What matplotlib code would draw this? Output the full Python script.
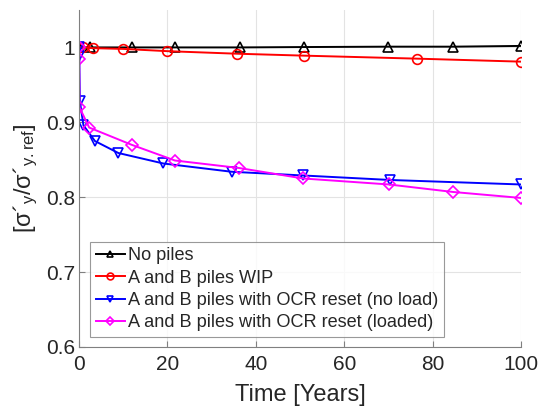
import matplotlib
matplotlib.use("Agg")
import matplotlib.pyplot as plt

plt.rcParams['font.family'] = ['Liberation Sans', 'DejaVu Sans']
plt.rcParams['mathtext.fontset'] = 'custom'
plt.rcParams['mathtext.rm'] = 'Liberation Sans'
plt.rcParams['mathtext.it'] = 'Liberation Sans'
plt.rcParams['mathtext.bf'] = 'Liberation Sans:bold'

# Data
t_black = [0, 2.5, 12, 21.7, 36.4, 51, 70, 84.6, 100]
v_black = [1.0, 1.0, 1.0, 1.0, 1.0, 1.0005, 1.001, 1.001, 1.002]

t_red = [0, 1.0, 3.2, 10, 20, 35.7, 51, 76.5, 100]
v_red = [1.0, 1.0, 0.999, 0.998, 0.995, 0.9916, 0.989, 0.985, 0.981]

t_blue = [0, 0.05, 0.2, 1.0, 3.6, 8.9, 19.1, 34.5, 50.7, 70.4, 100]
v_blue = [1.0, 0.988, 0.928, 0.896, 0.875, 0.859, 0.845, 0.834, 0.829, 0.823, 0.817]

t_mag = [0, 0.05, 0.1, 2.3, 11.9, 21.7, 36.2, 50.7, 70.1, 84.6, 100]
v_mag = [1.0, 0.984, 0.920, 0.893, 0.870, 0.849, 0.839, 0.825, 0.817, 0.807, 0.799]

labels = ['No piles', 'A and B piles WIP',
          'A and B piles with OCR reset (no load)',
          'A and B piles with OCR reset (loaded)']

xticks = [0, 20, 40, 60, 80, 100]
yticks = [0.6, 0.7, 0.8, 0.9, 1.0]
yticklabels = ['0.6', '0.7', '0.8', '0.9', '1']

fig = plt.figure(figsize=(5.39, 4.12), dpi=100)
ax = fig.add_axes([0.1466, 0.1578, 0.82, 0.818])

lw = 1.4
ms = 7
mew = 1.2
ax.plot(t_black, v_black, color='black', marker='^', mfc='none', ms=ms, mew=mew, lw=lw, label=labels[0])
ax.plot(t_red, v_red, color='red', marker='o', mfc='none', ms=ms, mew=mew, lw=lw, label=labels[1])
ax.plot(t_blue, v_blue, color='blue', marker='v', mfc='none', ms=ms, mew=mew, lw=lw, label=labels[2])
ax.plot(t_mag, v_mag, color='magenta', marker='D', mfc='none', ms=6, mew=mew, lw=lw, label=labels[3])

ax.set_xlim(0, 100)
ax.set_ylim(0.6, 1.05)
ax.set_xticks(xticks)
ax.set_yticks(yticks)
ax.set_yticklabels(yticklabels)
ax.grid(True, color='#e3e3e3', lw=0.8)
ax.set_axisbelow(True)
for s in ['top', 'right']:
    ax.spines[s].set_visible(False)
for s in ['left', 'bottom']:
    ax.spines[s].set_color('#808080')
    ax.spines[s].set_linewidth(0.8)
ax.tick_params(direction='in', length=4, width=0.8, color='#808080',
               labelsize=15, labelcolor='#262626')
ax.tick_params(axis='x', pad=6)
ax.tick_params(axis='y', pad=3)

ax.set_xlabel('Time [Years]', fontsize=17, color='#262626', labelpad=7)
ax.set_ylabel(r"[$\sigma$´$_{\mathrm{y}}$/$\sigma$´$_{\mathrm{y.ref}}$]", fontsize=17, color='#262626', labelpad=4)

leg = ax.legend(loc='lower left', bbox_to_anchor=(0.025, 0.03), fontsize=13.1,
                frameon=True, fancybox=False, edgecolor='#808080',
                handlelength=1.6, handletextpad=0.2, borderpad=0.3,
                labelspacing=0.3, borderaxespad=0, markerscale=0.7)
leg.get_frame().set_linewidth(0.8)
for txt in leg.get_texts():
    txt.set_color('#262626')

fig.savefig('out.png', dpi=100)
